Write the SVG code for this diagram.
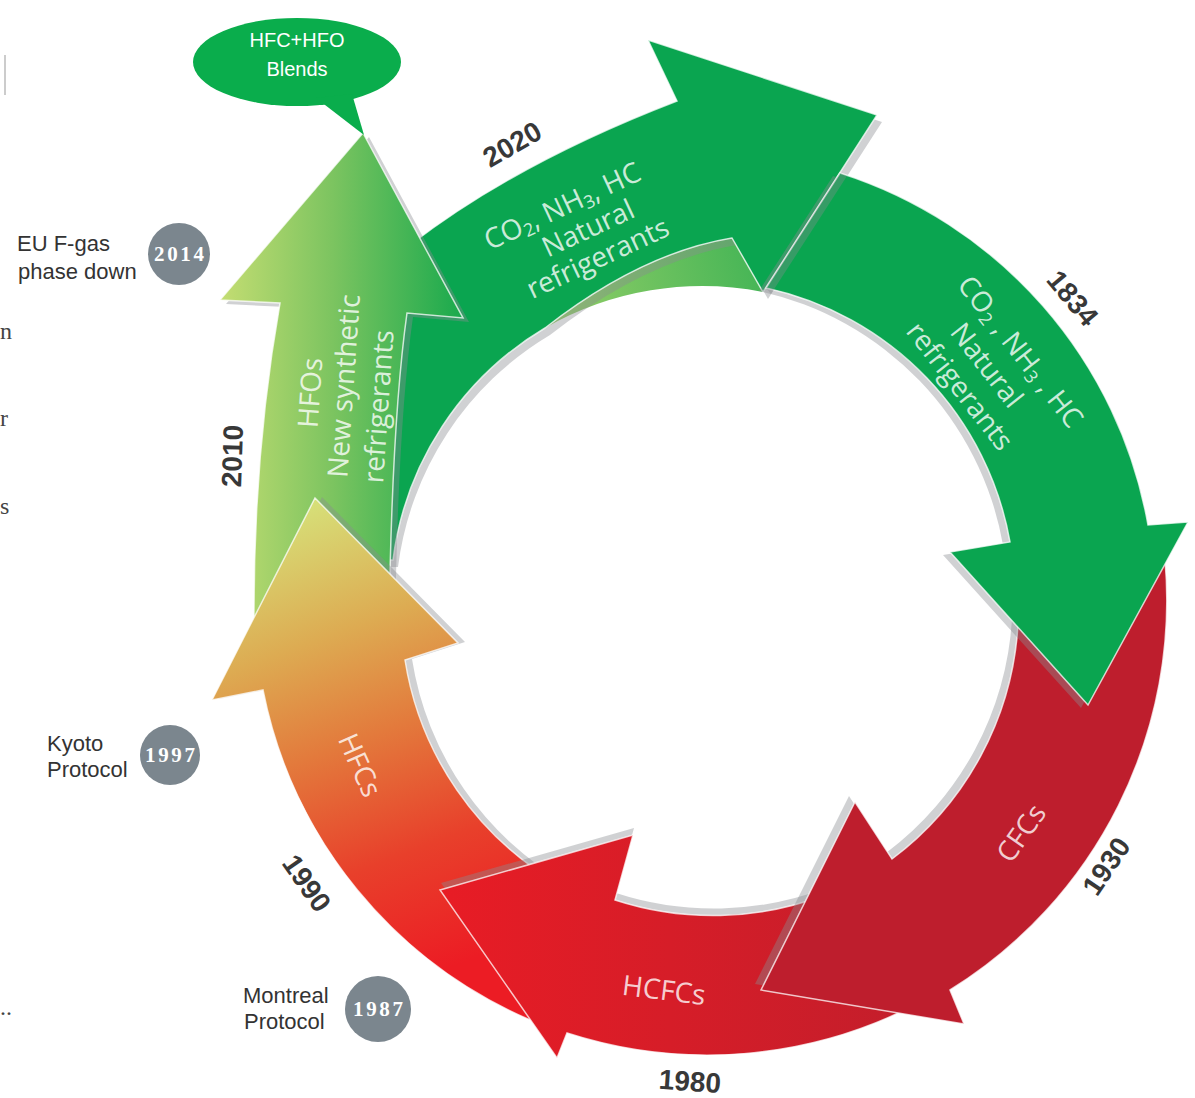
<svg xmlns="http://www.w3.org/2000/svg" xmlns:xlink="http://www.w3.org/1999/xlink" width="1195" height="1098" viewBox="0 0 1195 1098">
  <style>
    .yr { font-family: "Liberation Sans", Arial, sans-serif; font-weight: bold; font-size: 28px; fill: #383838; text-anchor: middle; }
    .in { font-family: "Open Sans", "Noto Sans", sans-serif; font-size: 28px; fill: #ffffff; fill-opacity: 0.8; text-anchor: middle; }
    .lbl { font-family: "Liberation Sans", Arial, sans-serif; font-size: 22px; fill: #333333; }
    .cy { font-family: "Liberation Serif", "Times New Roman", serif; font-weight: bold; font-size: 21px; fill: #ffffff; text-anchor: middle; }
    .yc { fill: #7b868e; }
    .sh { fill: #8a8c90; fill-opacity: 0.4; }
    .edge { stroke: #ffffff; stroke-opacity: 0.75; stroke-width: 1.5; stroke-linejoin: miter; }
    .stray { font-family: "Liberation Serif", serif; font-size: 24px; fill: #444444; }
  </style>
  <defs>
    <linearGradient id="gHFO" gradientUnits="userSpaceOnUse" x1="220" y1="0" x2="470" y2="0">
      <stop offset="0" stop-color="#c4dd72"/>
      <stop offset="0.45" stop-color="#7cc460"/>
      <stop offset="1" stop-color="#14a84c"/>
    </linearGradient>
    <linearGradient id="gHFC" gradientUnits="userSpaceOnUse" x1="300" y1="500" x2="470" y2="960">
      <stop offset="0" stop-color="#d6e27a"/>
      <stop offset="0.28" stop-color="#ddab52"/>
      <stop offset="0.5" stop-color="#e37a3c"/>
      <stop offset="0.75" stop-color="#e8402b"/>
      <stop offset="1" stop-color="#ec1c24"/>
    </linearGradient>
    <linearGradient id="gHCFC" gradientUnits="userSpaceOnUse" x1="440" y1="0" x2="900" y2="0">
      <stop offset="0" stop-color="#e81c25"/>
      <stop offset="1" stop-color="#c41e2b"/>
    </linearGradient>
    <linearGradient id="gWedge" gradientUnits="userSpaceOnUse" x1="545" y1="320" x2="760" y2="260">
      <stop offset="0" stop-color="#96cf68"/>
      <stop offset="1" stop-color="#45b556"/>
    </linearGradient>
    <path id="p2020" d="M677,101 L648,40 L877,115 L763,292 L732,238 Q641,253 545,328 A316,316 0 0 0 393,560 L330,560 L330,330 L410,245 Q516,163 677,101 Z"/>
    <path id="pHFO" d="M363,133 L463,318 L407,313 Q392,420 389,625 L254,625 Q253,456 280,303 L220,300 Z"/>
    <path id="pHFC" d="M315,498 L458,643 L405,660 A316,316 0 0 0 560,885 L535,1022 A455,455 0 0 1 263,690 L212,700 Z"/>
    <path id="pHCFC" d="M440,890 L633,835 L615,900 A316,316 0 0 0 825,895 L915,1005 A456,456 0 0 1 567,1033 L557,1058 Z"/>
    <path id="pCFC" d="M1000,575 L1165,560 A458,458 0 0 1 950,990 L964,1024 L761,990 L855,802 L892,859 A316,316 0 0 0 1018,625 Z"/>
    <path id="p1834" d="M840,173 A452,452 0 0 1 1148,525 L1188,522 L1088,705 L950,552 L1010,542 A316,316 0 0 0 766,288 Z"/>
  </defs>

  <rect width="1195" height="1098" fill="#ffffff"/>

  <!-- stray text fragments at the left margin -->
  <g id="margin">
    <line x1="5" y1="55" x2="5" y2="95" stroke="#bbbbbb" stroke-width="1.5"/>
    <text class="stray" x="0" y="339">n</text>
    <text class="stray" x="0" y="426">r</text>
    <text class="stray" x="0" y="514">s</text>
    <text class="stray" x="0" y="1015" font-size="20">..</text>
  </g>

  <g id="connectors">
    <!-- the cycle itself is formed by the arrows; no separate connectors -->
  </g>

  <g id="arrow-2020">
    <path d="M732,238 Q641,253 545,328 A316,316 0 0 1 763,292 Z" fill="url(#gWedge)"/>
    <use href="#p2020" class="sh" transform="translate(5,7)"/>
    <use href="#p2020" fill="#0aa550" class="edge"/>
    <g transform="translate(588,228) rotate(-25)">
      <text class="in" x="-14" y="-21">CO<tspan font-size="18" dy="4">2</tspan><tspan dy="-4">, NH</tspan><tspan font-size="18" dy="4">3</tspan><tspan dy="-4">, HC</tspan></text>
      <text class="in" x="0" y="10">Natural</text>
      <text class="in" x="-4" y="41">refrigerants</text>
    </g>
    <text class="yr" transform="translate(512,144) rotate(-30)" y="10">2020</text>
  </g>

  <g id="arrow-2010">
    <use href="#pHFO" class="sh" transform="translate(6,4)"/>
    <use href="#pHFO" fill="url(#gHFO)" class="edge"/>
    <g transform="translate(343,395) rotate(-86)">
      <text class="in" x="0" y="-23">HFOs</text>
      <text class="in" x="9" y="10">New synthetic</text>
      <text class="in" x="-9" y="46">refrigerants</text>
    </g>
    <text class="yr" transform="translate(232,456) rotate(-88)" y="10">2010</text>
  </g>

  <g id="arrow-1990">
    <use href="#pHFC" class="sh" transform="translate(7,-1)"/>
    <use href="#pHFC" fill="url(#gHFC)" class="edge"/>
    <text class="in" transform="translate(360,765) rotate(66)" y="10">HFCs</text>
    <text class="yr" transform="translate(307,883) rotate(55)" y="10">1990</text>
  </g>

  <g id="arrow-1980">
    <use href="#pHCFC" class="sh" transform="translate(1,-7)"/>
    <use href="#pHCFC" fill="url(#gHCFC)" class="edge"/>
    <text class="in" transform="translate(664,990) rotate(7)" y="10">HCFCs</text>
    <text class="yr" transform="translate(690,1081) rotate(4)" y="10">1980</text>
  </g>

  <g id="arrow-1930">
    <use href="#pCFC" class="sh" transform="translate(-6,-6)"/>
    <use href="#pCFC" fill="#be1e2d" class="edge"/>
    <text class="in" transform="translate(1021,833) rotate(-55)" y="10">CFCs</text>
    <text class="yr" transform="translate(1106,866) rotate(-56)" y="10">1930</text>
  </g>

  <g id="arrow-1834">
    <use href="#p1834" class="sh" transform="translate(-7,3)"/>
    <use href="#p1834" fill="#0aa550" class="edge"/>
    <polygon points="840,173 847,176 771,294 766,288" fill="#8a8c90" fill-opacity="0.35"/>
    <g transform="translate(987,365) rotate(52)">
      <text class="in" x="10" y="-25">CO<tspan font-size="18" dy="4">2</tspan><tspan dy="-4"> , NH</tspan><tspan font-size="18" dy="4">3</tspan><tspan dy="-4"> , HC</tspan></text>
      <text class="in" x="0" y="10">Natural</text>
      <text class="in" x="0" y="44">refrigerants</text>
    </g>
    <text class="yr" transform="translate(1073,298) rotate(50)" y="10">1834</text>
  </g>

  <g id="bubble-blends">
    <ellipse cx="297" cy="62" rx="104" ry="44" fill="#0aad4c"/>
    <polygon points="316,98 352,94 364,135" fill="#0aad4c"/>
    <text x="297" y="47" text-anchor="middle" font-family="Liberation Sans, Arial, sans-serif" font-size="20" fill="#ffffff">HFC+HFO</text>
    <text x="297" y="76" text-anchor="middle" font-family="Liberation Sans, Arial, sans-serif" font-size="20" fill="#ffffff">Blends</text>
  </g>

  <g id="milestone-2014">
    <text class="lbl" x="17" y="251">EU F-gas</text>
    <text class="lbl" x="18" y="279">phase down</text>
    <circle class="yc" cx="179" cy="254" r="31"/>
    <text class="cy" x="179" y="261" textLength="50">2014</text>
  </g>

  <g id="milestone-1997">
    <text class="lbl" x="47" y="751">Kyoto</text>
    <text class="lbl" x="47" y="777">Protocol</text>
    <circle class="yc" cx="170" cy="755" r="30"/>
    <text class="cy" x="170" y="762" textLength="50">1997</text>
  </g>

  <g id="milestone-1987">
    <text class="lbl" x="243" y="1003">Montreal</text>
    <text class="lbl" x="244" y="1029">Protocol</text>
    <circle class="yc" cx="378" cy="1009" r="33"/>
    <text class="cy" x="378" y="1016" textLength="50">1987</text>
  </g>
</svg>
